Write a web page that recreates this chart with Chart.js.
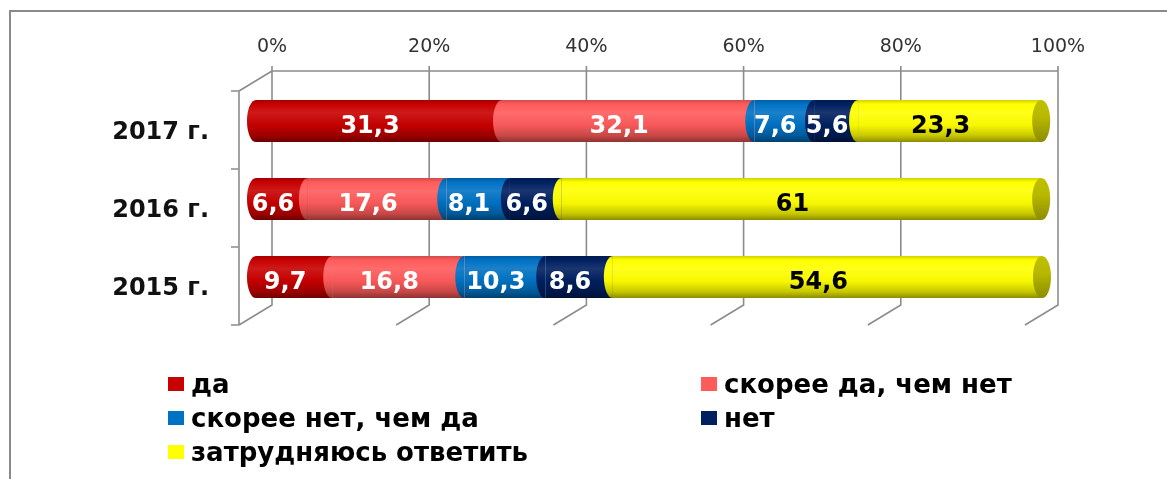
<!DOCTYPE html>
<html>
<head>
<meta charset="utf-8">
<script src="https://cdn.jsdelivr.net/npm/chart.js@4.4.0/dist/chart.umd.min.js"></script>
<style>
  html, body { margin: 0; padding: 0; background: #fff; overflow: hidden; }
  #wrap { position: relative; width: 1167px; height: 479px; overflow: hidden; }
  #frameTop { position: absolute; left: 9px; top: 10px; width: 1170px; height: 2px; background: #8a8a8a; }
  #frameLeft { position: absolute; left: 9px; top: 10px; width: 2px; height: 469px; background: #8a8a8a; }
  #chartbox { position: absolute; left: 0; top: 0; width: 1167px; height: 479px; }
  #legend { position: absolute; left: 168px; top: 367px; display: grid;
            grid-template-columns: 533px auto; grid-auto-rows: 34px;
            font: bold 26px "DejaVu Sans", sans-serif; color: #000; }
  .item { display: flex; align-items: center; white-space: nowrap; }
  .box { width: 16px; height: 14px; margin-right: 7px; flex: none; }
</style>
</head>
<body>
<div id="wrap">
  <div id="frameTop"></div>
  <div id="frameLeft"></div>
  <div id="chartbox"><canvas id="myChart"></canvas></div>
  <div id="legend"></div>
</div>
<script>
// data
const years = ['2017 г.', '2016 г.', '2015 г.'];
const seriesNames = ['да', 'скорее да, чем нет', 'скорее нет, чем да', 'нет', 'затрудняюсь ответить'];
const daValues = [31.3, 6.6, 9.7];
const skoreeDaValues = [32.1, 17.6, 16.8];
const skoreeNetValues = [7.6, 8.1, 10.3];
const netValues = [5.6, 6.6, 8.6];
const zatrudValues = [23.3, 61, 54.6];
const xTicks = [0, 20, 40, 60, 80, 100];
const colors = ['#c80000', '#ff5b5b', '#0072c4', '#002060', '#ffff00'];

const barPct = 0.54;
const capRx = 9;

function shade(hex, f) {
    const n = parseInt(hex.slice(1), 16);
    let r = n >> 16, g = (n >> 8) & 255, b = n & 255;
    if (f < 1) { r *= f; g *= f; b *= f; }
    else { r += (255 - r) * (f - 1); g += (255 - g) * (f - 1); b += (255 - b) * (f - 1); }
    return 'rgb(' + Math.round(r) + ',' + Math.round(g) + ',' + Math.round(b) + ')';
}

// vertical gradient so every segment looks like a cylinder
function cylinder(ctx, color) {
    const chart = ctx.chart;
    const ys = chart.scales.y;
    if (ctx.type !== 'data' || !ys) return color;
    const step = Math.abs(ys.getPixelForValue(1) - ys.getPixelForValue(0));
    const half = step * barPct / 2;
    if (!(half > 1)) return color;
    const c = ys.getPixelForValue(ctx.dataIndex);
    const g = chart.ctx.createLinearGradient(0, c - half, 0, c + half);
    g.addColorStop(0, shade(color, 0.82));
    g.addColorStop(0.1, shade(color, 1));
    g.addColorStop(0.3, shade(color, 1.1));
    g.addColorStop(0.6, shade(color, 0.97));
    g.addColorStop(0.85, shade(color, 0.78));
    g.addColorStop(1, shade(color, 0.55));
    return g;
}

// 3D back wall, floor edges and left wall
const wallsPlugin = {
    id: 'walls',
    beforeDatasetsDraw(chart) {
        const { ctx, scales: { x, y } } = chart;
        const step = Math.abs(y.getPixelForValue(1) - y.getPixelForValue(0));
        const top = y.getPixelForValue(0) - step / 2;
        const bottom = y.getPixelForValue(years.length - 1) + step / 2;
        const bx = 16, by = -11, fx = -17, fy = 9;
        const x0 = x.getPixelForValue(0);
        ctx.save();
        ctx.strokeStyle = '#8c8c8c';
        ctx.lineWidth = 1.6;
        ctx.beginPath();
        ctx.moveTo(x0 + bx, top + by);
        ctx.lineTo(x.getPixelForValue(100) + bx, top + by);
        xTicks.forEach(v => {
            const px = x.getPixelForValue(v);
            ctx.moveTo(px + bx, top + by - 5);
            ctx.lineTo(px + bx, bottom + by);
            ctx.lineTo(px + fx, bottom + fy);
        });
        const lx = x0 + fx;
        ctx.moveTo(x0 + bx, top + by);
        ctx.lineTo(lx, top + fy);
        ctx.lineTo(lx, bottom + fy);
        for (let i = 0; i <= years.length; i++) {
            const py = top + step * i + fy;
            ctx.moveTo(lx - 8, py);
            ctx.lineTo(lx, py);
        }
        ctx.stroke();
        ctx.restore();
    }
};

// rounded segment ends, yellow end cap and value labels
const capsPlugin = {
    id: 'caps',
    afterDatasetsDraw(chart) {
        const ctx = chart.ctx;
        const last = chart.data.datasets.length - 1;
        ctx.save();
        chart.data.datasets.forEach((ds, di) => {
            chart.getDatasetMeta(di).data.forEach(bar => {
                const h = bar.height / 2;
                ctx.fillStyle = bar.options.backgroundColor;
                ctx.beginPath();
                ctx.ellipse(bar.base, bar.y, capRx, h, 0, Math.PI / 2, Math.PI * 1.5);
                ctx.fill();
            });
        });
        chart.getDatasetMeta(last).data.forEach(bar => {
            const h = bar.height / 2;
            const g = ctx.createLinearGradient(0, bar.y - h, 0, bar.y + h);
            g.addColorStop(0, shade(colors[last], 0.75));
            g.addColorStop(0.4, shade(colors[last], 0.72));
            g.addColorStop(1, shade(colors[last], 0.55));
            ctx.fillStyle = g;
            ctx.beginPath();
            ctx.ellipse(bar.x, bar.y, capRx, h, 0, 0, Math.PI * 2);
            ctx.fill();
        });
        ctx.font = 'bold 24px "DejaVu Sans", sans-serif';
        ctx.textAlign = 'center';
        ctx.textBaseline = 'middle';
        chart.data.datasets.forEach((ds, di) => {
            chart.getDatasetMeta(di).data.forEach((bar, i) => {
                const txt = String(ds.data[i]).replace('.', ',');
                ctx.fillStyle = di === last ? '#000' : '#fff';
                ctx.fillText(txt, (bar.base + bar.x) / 2 - capRx, bar.y + 6);
            });
        });
        ctx.restore();
    }
};

const allValues = [daValues, skoreeDaValues, skoreeNetValues, netValues, zatrudValues];
const datasets = seriesNames.map((name, i) => ({
    label: name,
    data: allValues[i],
    backgroundColor: ctx => cylinder(ctx, colors[i]),
    borderWidth: 0,
    borderSkipped: false,
    barPercentage: barPct,
    categoryPercentage: 1
}));

const config = {
    type: 'bar',
    data: { labels: years, datasets: datasets },
    options: {
        indexAxis: 'y',
        responsive: true,
        maintainAspectRatio: false,
        animation: false,
        layout: { padding: { top: 0, left: 0, right: 125, bottom: 163 } },
        plugins: { legend: { display: false }, tooltip: { enabled: false } },
        scales: {
            x: {
                type: 'linear',
                position: 'top',
                stacked: true,
                min: 0,
                max: 100,
                afterFit: s => { s.height = 82; },
                afterBuildTicks: s => { s.ticks = xTicks.map(v => ({ value: v })); },
                grid: { display: false, drawTicks: false },
                border: { display: false },
                ticks: {
                    callback: v => v + '%',
                    labelOffset: 16,
                    padding: 24,
                    color: '#333',
                    font: { family: '"DejaVu Sans", sans-serif', size: 19 }
                }
            },
            y: {
                stacked: true,
                afterFit: s => { s.width = 256; },
                grid: { display: false, drawTicks: false },
                border: { display: false },
                ticks: {
                    padding: 47,
                    labelOffset: 12,
                    color: '#111',
                    font: { family: '"DejaVu Sans", sans-serif', size: 24, weight: 'bold' }
                }
            }
        }
    },
    plugins: [wallsPlugin, capsPlugin]
};

const canvas = document.getElementById('myChart');
window.myChart = new Chart(canvas, config);

// legend in two columns like the original
const legend = document.getElementById('legend');
seriesNames.forEach((name, i) => {
    const item = document.createElement('div');
    item.className = 'item';
    const box = document.createElement('span');
    box.className = 'box';
    box.style.background = colors[i];
    const txt = document.createElement('span');
    txt.textContent = name;
    item.appendChild(box);
    item.appendChild(txt);
    legend.appendChild(item);
});
</script>
</body>
</html>
